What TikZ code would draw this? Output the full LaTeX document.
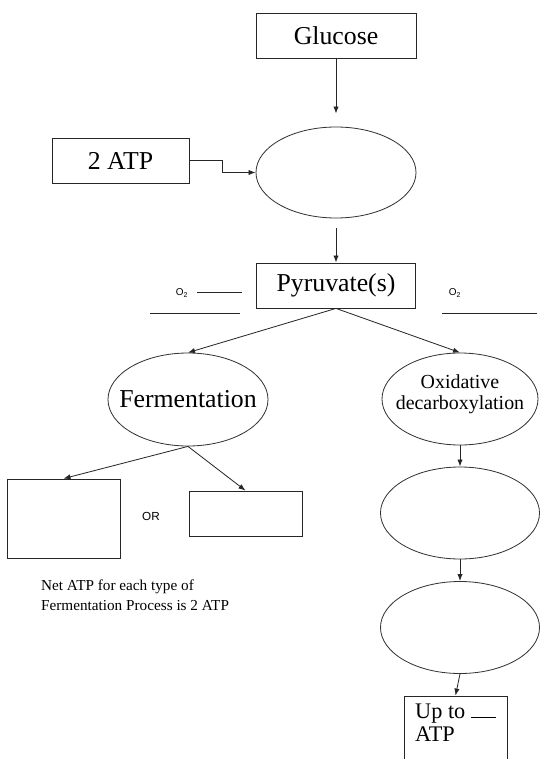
\documentclass[tikz,border=0pt]{standalone}
\usepackage{fontspec}
\setmainfont{Liberation Serif}
\newfontfamily\arialfont{Liberation Sans}
\usetikzlibrary{shapes.geometric, arrows.meta}

\begin{document}
\begin{tikzpicture}[x=0.03cm, y=-0.03cm, every node/.style={font=\fontsize{22}{24}\selectfont}]
  % Styles
  \tikzset{
    box/.style = {draw=black!85, shape=rectangle, line width=0.7pt, minimum width=4.8cm, minimum height=1.35cm, inner sep=0pt},
    oval/.style = {draw=black!80, shape=ellipse, line width=0.7pt, minimum width=4.8cm, minimum height=2.76cm, inner sep=0pt},
    link/.style = {-{Latex[length=6pt, width=4.5pt]}, line width=0.7pt, draw=black!85},
    blank/.style = {line width=0.7pt, draw=black!85},
    small/.style = {font=\arialfont\fontsize{8.5}{10}\selectfont}
  }

  \useasboundingbox (0,0) rectangle (540,759);
  \clip (0,0) rectangle (540,759);

  % Boxes
  \node[box] (Glucose) at (336,35.5) {Glucose};
  \node[box, minimum width=4.11cm] (TwoATP) at (120.5,160.5) {2 ATP};
  \node[box, minimum width=4.77cm] (Pyruvate) at (336,285.5) {Pyruvate(s)};
  \node[box, minimum width=3.39cm, minimum height=2.37cm] (FermLeft) at (63.5,518.5) {};
  \node[box, minimum width=3.39cm] (FermRight) at (245.5,513.5) {};
  \node[box, minimum width=3.09cm, minimum height=2.22cm] (UpTo) at (455.5,733) {};

  % Ovals
  \node[oval, minimum height=2.73cm] (Glycolysis) at (336,172.5) {};
  \node[oval, minimum height=2.79cm, label={center:Fermentation}] (Fermentation) at (188,399.5) {};
  \node[oval, minimum width=4.68cm, label={[align=center, yshift=0.15cm, font=\fontsize{17}{18}\selectfont]center:Oxidative\\decarboxylation}] (Oxidative) at (460,399) {};
  \node[oval, minimum width=4.77cm] (Krebs) at (460,513) {};
  \node[oval, minimum width=4.77cm] (ETC) at (460,627.5) {};

  % Texts
  \node[small] (O2Left) at (182,293) {O\textsubscript{2}};
  \node[small] (O2Right) at (455,293) {O\textsubscript{2}};
  \node[font=\arialfont\fontsize{10}{12}\selectfont] (Or) at (151,516) {OR};
  \node[anchor=west, align=left, font=\fontsize{13}{17}\selectfont] (NetATP) at (37,595) {Net ATP for each type of\\Fermentation Process is 2 ATP};
  \node[anchor=north west, align=left, inner sep=0pt, font=\fontsize{19}{19.5}\selectfont] (UpToText) at (415,704) {Up to \rule[1pt]{0.75cm}{0.7pt}\\ATP};

  % Blanks
  \coordinate (BlankLa) at (197,292);
  \coordinate (BlankLb) at (242,292);
  \coordinate (BlankLc) at (150,313);
  \coordinate (BlankLd) at (240,313);
  \coordinate (BlankRa) at (442,313);
  \coordinate (BlankRb) at (537,313);
  \draw[blank] (BlankLa) -- (BlankLb);
  \draw[blank] (BlankLc) -- (BlankLd);
  \draw[blank] (BlankRa) -- (BlankRb);

  % Connections
  \draw[link, shorten >=0.39cm] (Glucose.south) -- (Glycolysis.north);
  \draw[link, shorten <=0.3cm] (Glycolysis.south) -- (Pyruvate.north);
  \draw[link] (TwoATP.east) -- ++(33,0) |- (Glycolysis.west);
  \draw[link] (Pyruvate.south) -- (Fermentation.north);
  \draw[link] (Pyruvate.south) -- (Oxidative.north);
  \draw[link] (Fermentation.south) -- (FermLeft.north);
  \draw[link] (Fermentation.south) -- (FermRight.north);
  \draw[link] (Oxidative.south) -- (Krebs.north);
  \draw[link] (Krebs.south) -- (ETC.north);
  \draw[link] (ETC.south) -- (UpTo.north);

\end{tikzpicture}
\end{document}
